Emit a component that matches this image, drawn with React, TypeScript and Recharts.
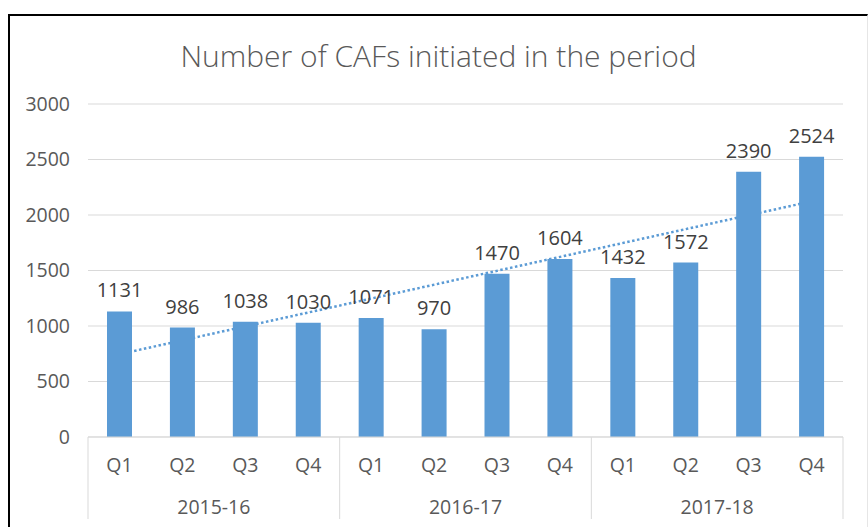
import {
  Bar,
  CartesianGrid,
  ComposedChart,
  LabelList,
  Line,
  XAxis,
  YAxis,
} from "recharts";

const years = ["2015-16", "2016-17", "2017-18"];
const quarters = ["Q1", "Q2", "Q3", "Q4"];
const cafs = [1131, 986, 1038, 1030, 1071, 970, 1470, 1604, 1432, 1572, 2390, 2524];
// linear trendline, read at the first and last category
const trendStart = 746;
const trendEnd = 2123;
const yTicks = [0, 500, 1000, 1500, 2000, 2500, 3000];

const data = cafs.map((value, i) => ({
  key: `${years[Math.floor(i / 4)]} ${quarters[i % 4]}`,
  quarter: quarters[i % 4],
  year: years[Math.floor(i / 4)],
  value,
  trend: i === 0 ? trendStart : i === cafs.length - 1 ? trendEnd : null,
}));

const FONT = "'Open Sans', sans-serif";
const BLUE = "#5B9BD5";
const GRID = "#D9D9D9";

function CategoryTick(props: any) {
  const { x, y, payload } = props;
  const i = payload?.index ?? props.index;
  const half = payload?.offset ?? 31.5;
  const row = data[i];
  if (!row) return null;
  return (
    <g>
      <text x={x} y={y + 35} textAnchor="middle" fill="#595959" fontSize={19.5} fontFamily={FONT}>
        {row.quarter}
      </text>
      {i % 4 === 0 && <line x1={x - half} x2={x - half} y1={y} y2={y + 82} stroke={GRID} />}
      {i === data.length - 1 && <line x1={x + half} x2={x + half} y1={y} y2={y + 82} stroke={GRID} />}
      {i % 4 === 1 && (
        <text x={x + half} y={y + 77} textAnchor="middle" fill="#595959" fontSize={19.5} fontFamily={FONT}>
          {row.year}
        </text>
      )}
    </g>
  );
}

export default function App() {
  return (
    <div
      style={{
        position: "fixed",
        top: 14,
        left: 8,
        width: 857,
        height: 511,
        borderTop: "2px solid #000",
        borderLeft: "2px solid #000",
        borderRight: "1px solid #E6E6E6",
        background: "#fff",
        overflow: "hidden",
      }}
    >
      <div
        style={{
          position: "absolute",
          top: 23,
          left: 0,
          width: 857,
          textAlign: "center",
          fontFamily: FONT,
          fontSize: 30,
          fontWeight: 300,
          lineHeight: "34px",
          color: "#595959",
        }}
      >
        Number of CAFs initiated in the period
      </div>
      <ComposedChart
        width={857}
        height={511}
        data={data}
        margin={{ top: 88, right: 24, bottom: 0, left: 0 }}
      >
        <CartesianGrid vertical={false} stroke={GRID} />
        <XAxis
          dataKey="key"
          interval={0}
          height={90}
          tickSize={0}
          tickMargin={0}
          axisLine={{ stroke: GRID }}
          tickLine={false}
          tick={<CategoryTick />}
        />
        <YAxis
          width={78}
          domain={[0, 3000]}
          ticks={yTicks}
          axisLine={false}
          tickLine={false}
          tickSize={0}
          tickMargin={18}
          tick={{ fill: "#595959", fontSize: 19.5, fontFamily: FONT }}
        />
        <Line
          dataKey="trend"
          connectNulls
          dot={false}
          activeDot={false}
          stroke={BLUE}
          strokeWidth={2.5}
          strokeDasharray="2.5 2.5"
          isAnimationActive={false}
          {...({ zIndex: 250 } as any)}
        />
        <Bar dataKey="value" fill={BLUE} barSize={25} isAnimationActive={false}>
          <LabelList
            dataKey="value"
            position="top"
            offset={14}
            fill="#404040"
            fontSize={20}
            fontFamily={FONT}
          />
        </Bar>
      </ComposedChart>
    </div>
  );
}
